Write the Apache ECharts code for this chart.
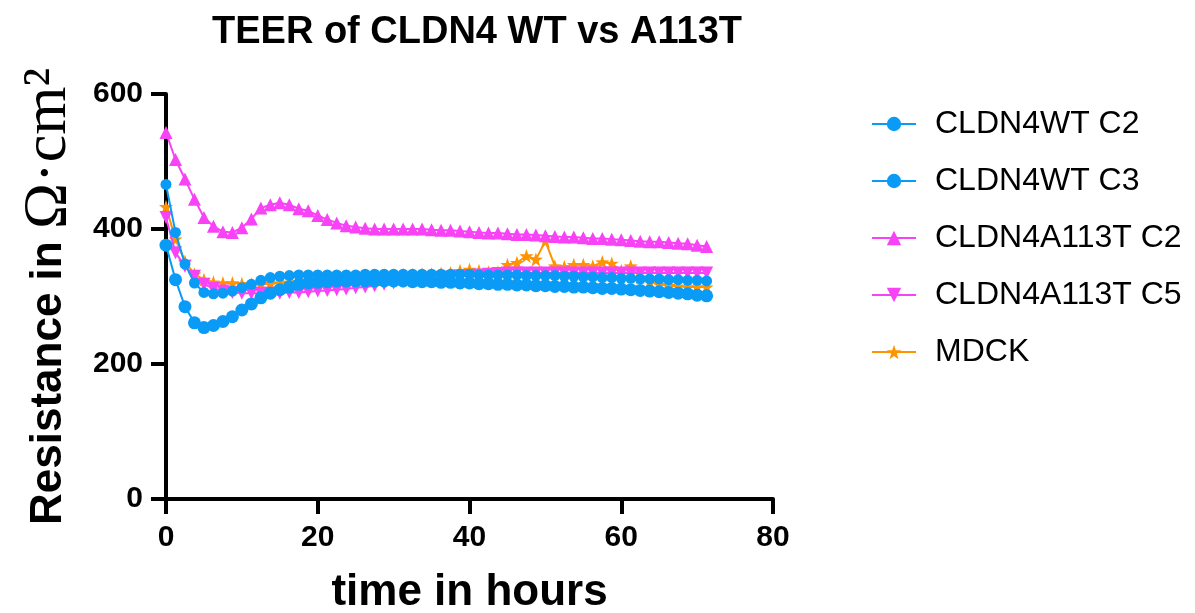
<!DOCTYPE html>
<html>
<head>
<meta charset="utf-8">
<script src="https://cdn.jsdelivr.net/npm/echarts@6/dist/echarts.min.js"></script>
<style>
  html, body { margin: 0; padding: 0; background: #fff; }
  #chart { width: 1195px; height: 613px; }
</style>
</head>
<body>
<div id="chart"></div>
<script>
// time points (hours), one every 75 min
const hours = [0, 1.25, 2.5, 3.75, 5, 6.25, 7.5, 8.75, 10, 11.25, 12.5, 13.75, 15, 16.25, 17.5, 18.75,
    20, 21.25, 22.5, 23.75, 25, 26.25, 27.5, 28.75, 30, 31.25, 32.5, 33.75, 35, 36.25, 37.5, 38.75,
    40, 41.25, 42.5, 43.75, 45, 46.25, 47.5, 48.75, 50, 51.25, 52.5, 53.75, 55, 56.25, 57.5, 58.75,
    60, 61.25, 62.5, 63.75, 65, 66.25, 67.5, 68.75, 70, 71.25]

const wtC2 = [376, 325, 285, 261, 254, 257, 263, 270, 280, 289, 298, 305, 310, 314, 318, 320,
    321, 322, 323, 323, 323, 323, 323, 323, 323, 323, 322, 322, 322, 321, 321, 320,
    320, 319, 319, 318, 318, 317, 317, 316, 316, 315, 315, 314, 314, 313, 312, 312,
    311, 310, 309, 308, 307, 306, 305, 304, 302, 301]

const wtC3 = [466, 395, 348, 320, 306, 304, 305, 308, 313, 318, 324, 328, 330, 331, 332, 332,
    332, 332, 332, 332, 332, 333, 333, 333, 333, 333, 333, 333, 333, 333, 333, 333,
    333, 332, 332, 332, 332, 332, 331, 331, 331, 331, 330, 330, 329, 329, 328, 328,
    327, 327, 326, 326, 326, 325, 325, 324, 324, 323]

const a113tC2 = [543, 503, 474, 444, 417, 404, 396, 395, 402, 415, 431, 436, 439, 436, 430, 427,
    420, 414, 409, 405, 403, 401, 400, 400, 400, 400, 400, 400, 399, 398, 398, 397,
    396, 395, 394, 394, 393, 392, 392, 391, 390, 389, 388, 388, 387, 386, 386, 385,
    384, 383, 382, 381, 381, 380, 379, 378, 376, 374]

const a113tC5 = [417, 365, 345, 330, 318, 312, 308, 306, 305, 305, 305, 305, 305, 306, 306, 307,
    308, 309, 310, 311, 313, 314, 316, 318, 320, 322, 324, 326, 327, 328, 329, 330,
    331, 332, 333, 334, 335, 335, 335, 335, 335, 335, 335, 335, 335, 335, 335, 335,
    335, 335, 335, 335, 335, 335, 335, 335, 335, 335]

const mdck = [433, 385, 352, 333, 325, 321, 320, 320, 319, 318, 318, 319, 320, 321, 322, 324,
    325, 326, 327, 328, 329, 330, 330, 331, 331, 332, 332, 333, 333, 334, 335, 338,
    340, 338, 336, 336, 347, 350, 360, 355, 382, 345, 344, 347, 347, 345, 351, 349,
    338, 345, 328, 322, 318, 316, 315, 314, 314, 314]

const seriesNames = ['CLDN4WT C2', 'CLDN4WT C3', 'CLDN4A113T C2', 'CLDN4A113T C5', 'MDCK']

const BLUE = '#0a9bf7'
const PINK = '#f743f5'
const ORANGE = '#ff9300'
const STAR = 'path://M0,-10 L2.35,-3.24 9.51,-3.09 3.8,1.24 5.88,8.09 0,4 -5.88,8.09 -3.8,1.24 -9.51,-3.09 -2.35,-3.24 Z'
const FONT = 'Liberation Sans, Arial, Helvetica, sans-serif'

function pairs(ys) {
    return ys.map((v, i) => [hours[i], v])
}

function lineSeries(name, ys, color, symbol, size, z, rotate) {
    return {
        type: 'line',
        name: name,
        data: pairs(ys),
        z: z,
        symbol: symbol,
        symbolSize: size,
        symbolRotate: rotate || 0,
        showAllSymbol: true,
        lineStyle: { color: color, width: 2 },
        itemStyle: { color: color },
        emphasis: { disabled: true }
    }
}

const chart = echarts.init(document.getElementById('chart'))
const option = {
    animation: false,
    backgroundColor: '#fff',
    title: {
        text: 'TEER of CLDN4 WT vs A113T',
        left: 207,
        top: 9,
        textStyle: { fontFamily: FONT, fontWeight: 'bold', fontSize: 38, color: '#000' }
    },
    grid: { left: 166, right: 422, top: 94, bottom: 114, containLabel: false, outerBoundsMode: 'none' },
    legend: {
        data: seriesNames,
        orient: 'vertical',
        left: 866,
        top: 103,
        itemWidth: 44,
        itemHeight: 18,
        itemGap: 25,
        textStyle: { fontFamily: FONT, fontSize: 32, color: '#000', lineHeight: 32, padding: [0, 0, 0, 14] }
    },
    xAxis: {
        type: 'value',
        min: 0,
        max: 80,
        interval: 20,
        name: 'time in hours',
        nameLocation: 'middle',
        nameGap: 72,
        nameTextStyle: { fontFamily: FONT, fontWeight: 'bold', fontSize: 44, color: '#000' },
        axisLine: { onZero: false, lineStyle: { color: '#000', width: 4 } },
        axisTick: { length: 15, lineStyle: { width: 4, color: '#000' } },
        axisLabel: { margin: 24, fontFamily: FONT, fontWeight: 'bold', fontSize: 30, color: '#000' },
        splitLine: { show: false }
    },
    yAxis: {
        type: 'value',
        min: 0,
        max: 600,
        interval: 200,
        name: '{a|Resistance in }{b|Ω·cm²}',
        nameLocation: 'middle',
        nameGap: 86,
        nameTextStyle: {
            rich: {
                a: { fontFamily: FONT, fontWeight: 'bold', fontSize: 44, color: '#000' },
                b: { fontFamily: 'Liberation Serif, DejaVu Serif, serif', fontSize: 62, color: '#000' }
            }
        },
        axisLine: { onZero: false, lineStyle: { color: '#000', width: 4 } },
        axisTick: { length: 15, lineStyle: { width: 4, color: '#000' } },
        axisLabel: { margin: 23, fontFamily: FONT, fontWeight: 'bold', fontSize: 30, color: '#000' },
        splitLine: { show: false }
    },
    series: [
        lineSeries(seriesNames[0], wtC2, BLUE, 'circle', 13, 6),
        lineSeries(seriesNames[1], wtC3, BLUE, 'circle', 11, 5),
        lineSeries(seriesNames[2], a113tC2, PINK, 'triangle', 13, 4),
        lineSeries(seriesNames[3], a113tC5, PINK, 'triangle', 13, 3, 180),
        lineSeries(seriesNames[4], mdck, ORANGE, STAR, 14, 2)
    ]
}
chart.setOption(option)
</script>
</body>
</html>
